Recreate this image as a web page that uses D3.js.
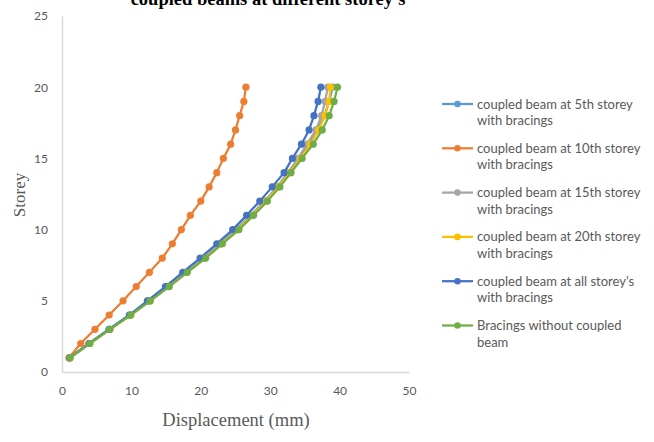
<!DOCTYPE html>
<html><head><meta charset="utf-8">
<script src="https://cdn.jsdelivr.net/npm/d3@7"></script>
<style>body{margin:0;background:#fff}svg{display:block}</style>
</head><body>
<script>
const storeys = d3.range(1, 21);
const seriesNames = [
  ["coupled beam at 5th storey", "with bracings"],
  ["coupled beam at 10th storey", "with bracings"],
  ["coupled beam at 15th storey", "with bracings"],
  ["coupled beam at 20th storey", "with bracings"],
  ["coupled beam at all storey's", "with bracings"],
  ["Bracings without coupled", "beam"]
];
const colors = ["#5B9BD5", "#ED7D31", "#A5A5A5", "#FFC000", "#4472C4", "#70AD47"];
const beam5th   = [1.1, 3.9, 6.8, 9.8, 12.5, 15.2, 17.8, 20.4, 22.8, 25.1, 27.2, 29.2, 31.0, 32.6, 34.1, 35.6, 36.8, 37.8, 38.5, 39.0];
const beam10th  = [1.0, 2.7, 4.75, 6.8, 8.8, 10.7, 12.6, 14.45, 15.9, 17.2, 18.5, 20.0, 21.2, 22.3, 23.25, 24.3, 25.0, 25.6, 26.2, 26.5];
const beam15th  = [1.15, 4.0, 6.9, 9.9, 12.7, 15.4, 18.0, 20.6, 23.0, 25.3, 27.4, 29.3, 31.0, 32.6, 34.0, 35.3, 36.6, 37.4, 37.9, 38.3];
const beam20th  = [1.15, 4.0, 6.9, 9.9, 12.7, 15.4, 18.0, 20.6, 23.0, 25.3, 27.4, 29.4, 31.2, 32.8, 34.4, 35.8, 37.0, 37.9, 38.5, 38.7];
const beamAll   = [1.1, 3.9, 6.8, 9.7, 12.3, 14.9, 17.4, 19.9, 22.3, 24.6, 26.6, 28.5, 30.3, 32.0, 33.2, 34.5, 35.6, 36.3, 36.9, 37.3];
const noBeam    = [1.15, 4.0, 6.9, 9.9, 12.7, 15.45, 18.05, 20.7, 23.1, 25.5, 27.6, 29.6, 31.4, 33.0, 34.6, 36.2, 37.5, 38.5, 39.2, 39.7];
const xTicks = [0, 10, 20, 30, 40, 50];
const yTicks = [0, 5, 10, 15, 20, 25];
const allSeries = [beam5th, beam10th, beam15th, beam20th, beamAll, noBeam];

const W = 654, H = 442;
const svg = d3.select("body").append("svg").attr("width", W).attr("height", H);
const x = d3.scaleLinear().domain([0, 50]).range([62, 409]);
const y = d3.scaleLinear().domain([0, 25]).range([372, 16]);

// title (cut off at top, as in the reference)
svg.append("text").attr("x", 268).attr("y", 5).attr("text-anchor", "middle")
  .attr("font-family", "Liberation Serif").attr("font-weight", "bold").attr("font-size", 18.5)
  .attr("fill", "#000").text("coupled beams at different storey's");

// axes
const xAxis = svg.append("g").attr("transform", `translate(0,${y(0)})`)
  .call(d3.axisBottom(x).tickValues(xTicks).tickSize(0).tickPadding(14));
const yAxis = svg.append("g").attr("transform", `translate(${x(0)},0)`)
  .call(d3.axisLeft(y).tickValues(yTicks).tickSize(0).tickPadding(14));
[xAxis, yAxis].forEach(g => {
  g.select(".domain").attr("stroke", "#D9D9D9").attr("stroke-width", 1.5);
  g.selectAll("text").attr("font-family", "Lato").attr("font-size", 12).attr("fill", "#595959");
});

svg.append("text").attr("x", 236).attr("y", 426).attr("text-anchor", "middle")
  .attr("font-family", "Liberation Serif").attr("font-size", 18.5).attr("fill", "#595959")
  .text("Displacement (mm)");
svg.append("text").attr("transform", "translate(25,195) rotate(-90)").attr("text-anchor", "middle")
  .attr("font-family", "Liberation Serif").attr("font-size", 17).attr("fill", "#595959")
  .text("Storey");

const line = d3.line().x(d => x(d[0])).y(d => y(d[1]));
allSeries.forEach((vals, i) => {
  const pts = vals.map((v, k) => [v, storeys[k]]);
  const g = svg.append("g");
  g.append("path").attr("d", line(pts)).attr("fill", "none")
    .attr("stroke", colors[i]).attr("stroke-width", 2.25).attr("stroke-linejoin", "round");
  g.selectAll("circle").data(pts).join("circle")
    .attr("cx", d => x(d[0])).attr("cy", d => y(d[1])).attr("r", 3.6)
    .attr("fill", colors[i]);
});

// legend
const leg = svg.append("g");
seriesNames.forEach((nm, i) => {
  const yy = 104 + i * 44.3;
  leg.append("line").attr("x1", 442).attr("x2", 473).attr("y1", yy).attr("y2", yy)
    .attr("stroke", colors[i]).attr("stroke-width", 2.25);
  leg.append("circle").attr("cx", 457.5).attr("cy", yy).attr("r", 3.3).attr("fill", colors[i]);
  nm.forEach((t, j) => {
    leg.append("text").attr("x", 477).attr("y", yy + j * 16.6).attr("dy", "0.35em")
      .attr("font-family", "Lato").attr("font-size", 13).attr("fill", "#595959").text(t);
  });
});
</script>
</body></html>
